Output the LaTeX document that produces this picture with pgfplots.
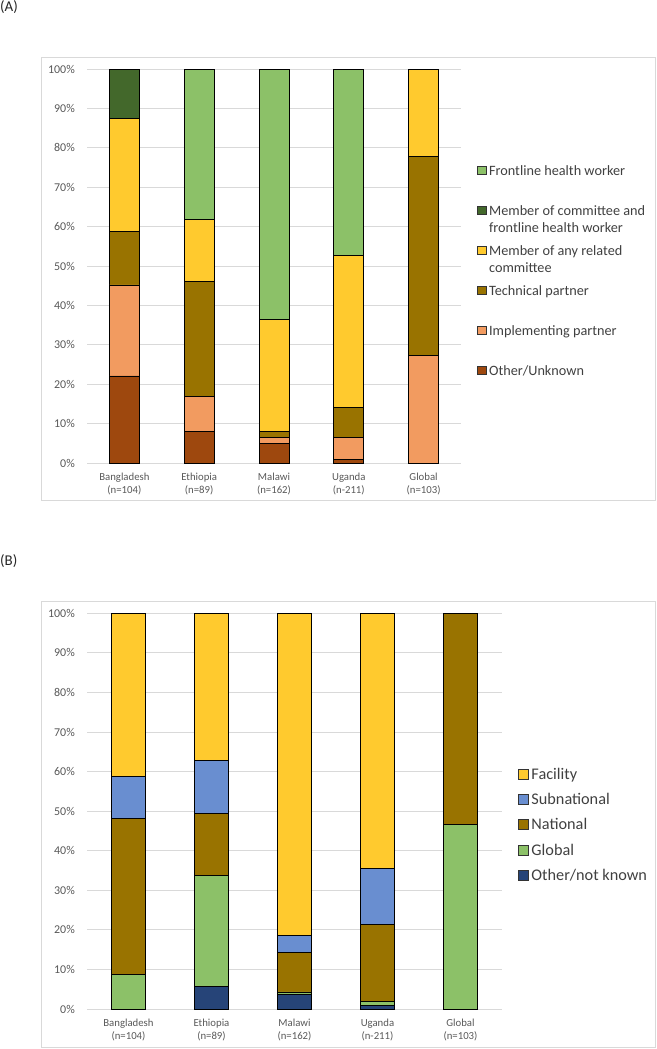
\documentclass[border=0pt]{standalone}
\usepackage{pgfplots}
\pgfplotsset{compat=1.18}
\usepackage{fontspec}
\setmainfont{Carlito}
\definecolor{fhw}{HTML}{8CC168}
\definecolor{memcomm}{HTML}{43682B}
\definecolor{memany}{HTML}{FFCA2E}
\definecolor{tech}{HTML}{997300}
\definecolor{impl}{HTML}{F29B60}
\definecolor{othr}{HTML}{9E480E}
\definecolor{subn}{HTML}{698ED0}
\definecolor{othb}{HTML}{264478}
\definecolor{gridg}{HTML}{D9D9D9}
\definecolor{boxg}{HTML}{D9D9D9}
\definecolor{txt}{HTML}{595959}
\definecolor{legtxt}{HTML}{404040}

\pgfplotsset{
  common/.style={
    scale only axis,
    ybar stacked,
    bar width=0.4,
    xmin=-0.5, xmax=4.5,
    ymin=0, ymax=100,
    xtick={0,1,2,3,4},
    xticklabels={{Bangladesh\\(n=104)},{Ethiopia\\(n=89)},{Malawi\\(n=162)},{Uganda\\(n-211)},{Global\\(n=103)}},
    ytick={0,10,...,100},
    yticklabel={\pgfmathprintnumber{\tick}\%},
    /pgf/number format/assume math mode=true,
    ymajorgrids,
    grid style={draw=gridg, line width=0.9bp},
    axis line style={draw=none},
    major tick length=0pt,
    tick style={draw=none},
    yticklabel style={font=\fontsize{12}{14}\selectfont, text=txt, inner xsep=0pt},
    yticklabel shift=12bp,
    xticklabel style={font=\fontsize{10.8}{13}\selectfont, text=txt, align=center, inner sep=0pt, anchor=north},
    xticklabel shift=10bp,
    reverse legend,
    clip=false,
  },
  sq/.style={area legend, legend image code/.code={\draw[##1, draw=black!80, line width=0.6bp] (0bp,-#1) rectangle (2*#1,#1);}},
  bar/.style={fill=#1, draw=black, line width=0.8bp},
}

\begin{document}
\begin{tikzpicture}
\path[use as bounding box] (0,0) rectangle (657bp,-1049bp);
\draw[boxg, line width=0.9bp] (41bp,-57bp) rectangle (655.5bp,-500bp);
\draw[boxg, line width=0.9bp] (41bp,-601.7bp) rectangle (655bp,-1047.7bp);
\node[anchor=north west, inner sep=0pt, font=\fontsize{15}{17}\selectfont, text=black!85] at (0bp,0bp) {(A)};
\node[anchor=north west, inner sep=0pt, font=\fontsize{15}{17}\selectfont, text=black!85] at (0bp,-554bp) {(B)};

\begin{axis}[common,
  at={(87bp,-463bp)}, anchor=south west,
  width=374bp, height=394bp,
  legend style={at={(rel axis cs:1.0428,0.4886)}, anchor=west, draw=none, fill=none,
    inner sep=0pt, row sep=23.4bp, column sep=0pt,
    font=\fontsize{14.3}{17.2}\selectfont, text=legtxt,
    nodes={inner xsep=3bp, inner ysep=0pt, text height=12.9bp, text depth=3.7bp},
    cells={anchor=west}},
]
\addplot[bar=othr, sq=4.15bp] coordinates {(0,22.1) (1,7.9) (2,4.9) (3,0.9) (4,0)};
\addlegendentry{Other/Unknown}
\addplot[bar=impl, sq=4.15bp] coordinates {(0,23.1) (1,9.0) (2,1.6) (3,5.7) (4,27.2)};
\addlegendentry{Implementing partner}
\addplot[bar=tech, sq=4.15bp] coordinates {(0,13.5) (1,29.2) (2,1.4) (3,7.6) (4,50.5)};
\addlegendentry{Technical partner}
\addplot[bar=memany, sq=4.15bp] coordinates {(0,28.8) (1,15.7) (2,28.5) (3,38.4) (4,22.3)};
\addlegendentry{\smash{\begin{tabular}[t]{@{}l@{}}Member of any related\\committee\end{tabular}}}
\addplot[bar=memcomm, sq=4.15bp] coordinates {(0,12.5) (1,0) (2,0) (3,0) (4,0)};
\addlegendentry{\smash{\begin{tabular}[t]{@{}l@{}}Member of committee and\\frontline health worker\end{tabular}}}
\addplot[bar=fhw, sq=4.15bp] coordinates {(0,0) (1,38.2) (2,63.6) (3,47.4) (4,0)};
\addlegendentry{Frontline health worker}
\end{axis}

\begin{axis}[common,
  at={(87bp,-1009bp)}, anchor=south west,
  width=415bp, height=395.7bp,
  legend style={at={(rel axis cs:1.0378,0.466)}, anchor=west, draw=none, fill=none,
    inner sep=0pt, row sep=6.3bp, column sep=0pt,
    font=\fontsize{16.3}{19}\selectfont, text=legtxt,
    nodes={inner xsep=3bp, inner ysep=0pt, text height=14.7bp, text depth=4.2bp},
    cells={anchor=west}},
]
\addplot[bar=othb, sq=5bp] coordinates {(0,0) (1,5.6) (2,3.7) (3,0.9) (4,0)};
\addlegendentry{Other/not known}
\addplot[bar=fhw, sq=5bp] coordinates {(0,8.7) (1,28.1) (2,0.6) (3,0.9) (4,46.6)};
\addlegendentry{Global}
\addplot[bar=tech, sq=5bp] coordinates {(0,39.4) (1,15.7) (2,9.9) (3,19.5) (4,53.4)};
\addlegendentry{National}
\addplot[bar=subn, sq=5bp] coordinates {(0,10.6) (1,13.5) (2,4.3) (3,14.2) (4,0)};
\addlegendentry{Subnational}
\addplot[bar=memany, sq=5bp] coordinates {(0,41.3) (1,37.1) (2,81.5) (3,64.5) (4,0)};
\addlegendentry{Facility}
\end{axis}
\end{tikzpicture}
\end{document}
